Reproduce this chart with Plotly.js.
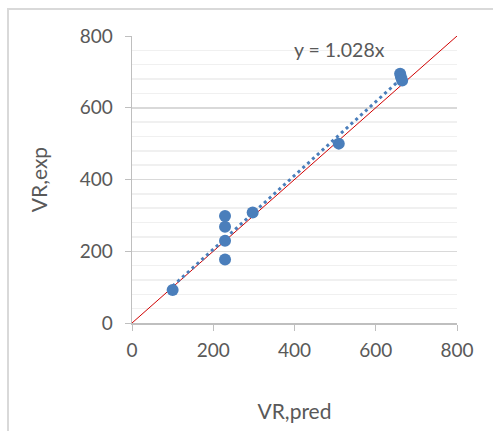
<!DOCTYPE html>
<html>
<head>
<meta charset="utf-8">
<script src="https://cdn.plot.ly/plotly-3.0.1.min.js"></script>
<style>
  html, body { margin: 0; padding: 0; background: #fff; }
  #chart { position: absolute; left: 0; top: 0; width: 493px; height: 431px; }
  #frame { position: absolute; left: 7px; top: 8px; width: 486px; height: 423px;
           border-left: 2px solid #d9d9d9; border-top: 2px solid #d9d9d9; pointer-events: none; }
</style>
</head>
<body>
<div id="chart"></div>
<div id="frame"></div>
<script>
const xPred = [100, 229, 229, 229, 229, 297, 509, 660, 662, 665];
const yExp  = [92, 298, 268, 229, 177, 308, 500, 695, 686, 676];
const trendSlope = 1.028;
const trendLabel = "y = 1.028x";
const identityX = [0, 800];
const tickVals = [0, 200, 400, 600, 800];

const trendX = [Math.min(...xPred), Math.max(...xPred)];
const trendY = trendX.map(v => trendSlope * v);

const font = "Lato, 'Liberation Sans', sans-serif";
const grey = "#595959";

const data = [
  { x: identityX, y: identityX, mode: "lines", line: { color: "#d00000", width: 1 }, hoverinfo: "skip" },
  { x: trendX, y: trendY, mode: "lines", line: { color: "#4a7ebb", width: 3, dash: "3px,3.5px" } },
  { x: xPred, y: yExp, mode: "markers", marker: { color: "#4a7ebb", size: 12 } }
];

const layout = {
  width: 493, height: 431,
  margin: { l: 132, r: 36, t: 36, b: 108 },
  showlegend: false,
  paper_bgcolor: "#fff", plot_bgcolor: "#fff",
  font: { family: font, color: grey, size: 19 },
  xaxis: {
    range: [0, 800], tickvals: tickVals, showgrid: false, zeroline: false,
    showline: true, linecolor: "#bfbfbf", linewidth: 1.5,
    ticks: "outside", ticklen: 6, tickcolor: "#bfbfbf",
    ticklabelstandoff: 4,
    tickfont: { size: 19, color: grey },
    title: { text: "VR,pred", font: { size: 21, color: grey }, standoff: 44 }
  },
  yaxis: {
    range: [0, 800], tickvals: tickVals, zeroline: false,
    showgrid: true, gridcolor: "#d9d9d9", gridwidth: 1.5,
    minor: { dtick: 40, showgrid: true, gridcolor: "#f0f0f0", gridwidth: 1.5 },
    showline: true, linecolor: "#bfbfbf", linewidth: 1.5,
    ticks: "outside", ticklen: 6, tickcolor: "#bfbfbf",
    ticklabelstandoff: 8,
    tickfont: { size: 19, color: grey },
    title: { text: "VR,exp", font: { size: 21, color: grey }, standoff: 26 }
  },
  annotations: [
    { x: 510, y: 761, xref: "x", yref: "y", text: trendLabel, showarrow: false,
      font: { size: 19.5, color: grey } }
  ]
};

Plotly.newPlot("chart", data, layout, { displayModeBar: false, staticPlot: true });
</script>
</body>
</html>
